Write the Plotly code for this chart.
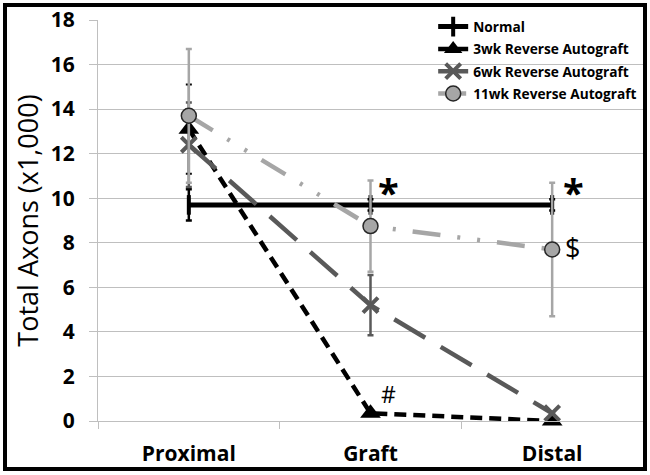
import plotly.graph_objects as go

categories = ["Proximal", "Graft", "Distal"]
x_pos = [0, 1, 2]

normal = [9.7, 9.7, 9.7]
normal_err = [0.7, 0.25, 0.25]
wk3 = [13.1, 0.35, 0.0]
wk3_err = [2.0, 0.0, 0.0]
wk6 = [12.4, 5.2, 0.35]
wk6_err = [1.9, 1.35, 0.0]
wk11 = [13.7, 8.75, 7.7]
wk11_err = [3.0, 2.05, 3.0]

FONT = "Open Sans"

fig = go.Figure()

fig.add_trace(go.Scatter(
    x=x_pos, y=normal, name="Normal", mode="lines+markers", legendgroup="a",
    line=dict(color="black", width=5),
    marker=dict(symbol="line-ns", size=14, line=dict(color="black", width=4)),
    error_y=dict(type="data", array=normal_err, color="black", thickness=2.5, width=3),
    cliponaxis=False,
))
fig.add_trace(go.Scatter(
    x=x_pos, y=wk3, name="3wk Reverse Autograft", mode="lines+markers", legendgroup="b",
    line=dict(color="black", width=4.5, dash="12px,7px"),
    marker=dict(symbol="triangle-up", size=18, color="black"),
    error_y=dict(type="data", array=wk3_err, color="black", thickness=2, width=3),
    cliponaxis=False,
))
fig.add_trace(go.Scatter(
    x=x_pos, y=wk6, name="6wk Reverse Autograft", mode="lines+markers", legendgroup="c",
    line=dict(color="#595959", width=4.5, dash="36px,18px"),
    marker=dict(symbol="x-thin", size=15, line=dict(color="#595959", width=4)),
    error_y=dict(type="data", array=wk6_err, color="#595959", thickness=2.5, width=3),
    cliponaxis=False,
))
fig.add_trace(go.Scatter(
    x=x_pos, y=wk11, name="11wk Reverse Autograft", mode="lines+markers", legendgroup="d",
    line=dict(color="#a6a6a6", width=4.5, dash="28px,17px,3px,17px,3px,17px"),
    marker=dict(symbol="circle", size=15, color="#a6a6a6", line=dict(color="#262626", width=1.5)),
    error_y=dict(type="data", array=wk11_err, color="#a6a6a6", thickness=2.5, width=3),
    cliponaxis=False,
))

notes = [
    (1.10, 10.3, "*", 38, "bold"),
    (2.115, 10.3, "*", 38, "bold"),
    (2.11, 7.8, "$", 27, "normal"),
    (1.10, 1.2, "#", 23, "normal"),
]
for nx, ny, txt, sz, wt in notes:
    fig.add_annotation(x=nx, y=ny, text=txt, showarrow=False,
                       font=dict(family=FONT, size=sz, color="black", weight=wt))

# outer black frame
L, R, T, B = 98, 643, 20, 421
W, H = R - L, B - T
fig.add_shape(type="rect", xref="paper", yref="paper",
              x0=(5 - L) / W, x1=(645 - L) / W, y0=(B - 469) / H, y1=(B - 5) / H,
              line=dict(color="black", width=4))

fig.update_layout(
    width=650, height=475,
    margin=dict(l=L, r=650 - R, t=T, b=475 - B, autoexpand=False),
    paper_bgcolor="white", plot_bgcolor="white",
    font=dict(family=FONT, color="black"),
    showlegend=True,
    legend=dict(x=0.615, y=1.022, xanchor="left", yanchor="top",
                bgcolor="rgba(0,0,0,0)", font=dict(family=FONT, size=13.7, color="black", weight="bold"),
                tracegroupgap=1.5, itemwidth=30),
    xaxis=dict(range=[-0.5, 2.5], tickvals=x_pos, ticktext=categories,
               showgrid=False, zeroline=False, showline=True, linecolor="#bfbfbf", linewidth=1,
               ticks="", ticklabelstandoff=14,
               tickfont=dict(family=FONT, size=21, weight="bold"),
               minor=dict(tickvals=[-0.5, 0.5, 1.5], ticks="outside", ticklen=7, tickcolor="#bfbfbf")),
    yaxis=dict(range=[0, 18], dtick=2, showgrid=True, gridcolor="#bfbfbf", gridwidth=1,
               zeroline=False, showline=True, linecolor="#bfbfbf", linewidth=1,
               ticks="outside", ticklen=8, tickcolor="#bfbfbf", ticklabelstandoff=10,
               tickfont=dict(family=FONT, size=21, weight="bold"),
               title=dict(text="Total Axons (x1,000)", standoff=4,
                          font=dict(family=FONT, size=27, color="black"))),
)

fig.write_html("out.html", config={"displayModeBar": False},
               post_script="document.body.style.margin='0px';")
